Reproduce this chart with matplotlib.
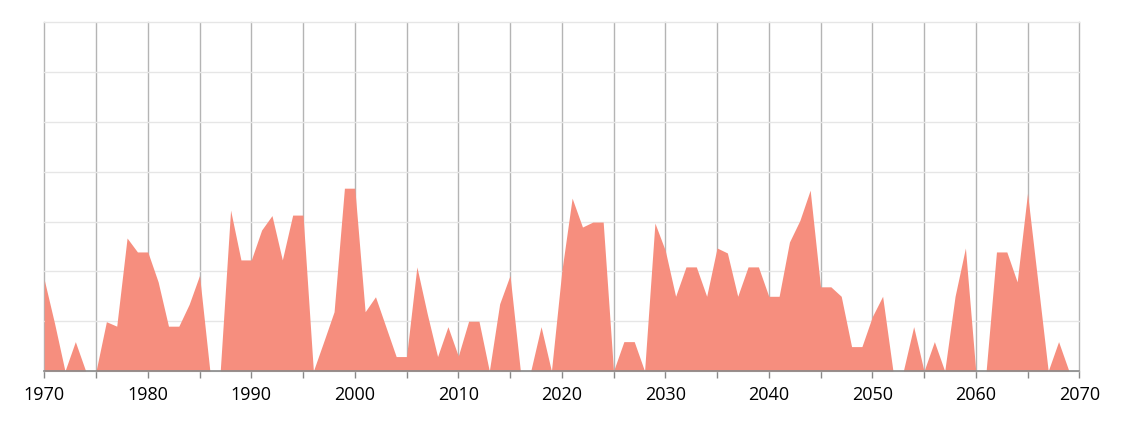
import matplotlib
matplotlib.use("Agg")
import matplotlib.pyplot as plt
import numpy as np

years = list(range(1970, 2070))
values = [
    1.83, 0.95, 0.0, 0.59, 0.0, 0.0, 0.99, 0.9, 2.67, 2.39,   # 1970-1979
    2.39, 1.79, 0.9, 0.9, 1.34, 1.92, 0.0, 0.0, 3.23, 2.23,   # 1980-1989
    2.23, 2.83, 3.12, 2.23, 3.13, 3.13, 0.0, 0.59, 1.19, 3.67, # 1990-1999
    3.67, 1.19, 1.49, 0.89, 0.29, 0.29, 2.09, 1.15, 0.29, 0.89, # 2000-2009
    0.3, 1.0, 1.0, 0.0, 1.35, 1.92, 0.0, 0.0, 0.89, 0.0,       # 2010-2019
    2.0, 3.47, 2.89, 2.99, 2.99, 0.0, 0.59, 0.59, 0.0, 2.97,   # 2020-2029
    2.42, 1.5, 2.09, 2.09, 1.5, 2.47, 2.37, 1.5, 2.09, 2.09,   # 2030-2039
    1.5, 1.5, 2.59, 3.02, 3.63, 1.69, 1.69, 1.5, 0.49, 0.49,   # 2040-2049
    1.09, 1.5, 0.0, 0.0, 0.89, 0.0, 0.59, 0.0, 1.5, 2.47,      # 2050-2059
    0.0, 0.0, 2.39, 2.39, 1.79, 3.57, 1.79, 0.0, 0.59, 0.0,    # 2060-2069
]
x_major = list(range(1970, 2071, 10))
x_minor = list(range(1975, 2070, 10))

fig = plt.figure(figsize=(11.24, 4.23), dpi=100)
ax = fig.add_axes([0.0394, 0.1229, 0.9208, 0.8244])

ax.fill_between(years, values, 0, color="#F68E7E", linewidth=0, zorder=2)

ax.set_xlim(1970, 2070)
ax.set_ylim(0, 7)
ax.set_yticks(range(0, 8))
ax.yaxis.grid(True, color="#e6e6e6", linewidth=1.0, zorder=0)
ax.tick_params(axis="y", left=False, labelleft=False)

ax.set_xticks(x_major)
ax.set_xticks(x_minor, minor=True)
ax.xaxis.grid(True, which="both", color="#b4b4b4", linewidth=1.0, zorder=1)
for gl in ax.get_xgridlines() + ax.get_ygridlines():
    gl.set_clip_on(False)
ax.tick_params(axis="x", which="both", direction="out", length=5, width=1,
               color="#888888", labelsize=13, pad=6)
ax.set_xticklabels([str(v) for v in x_major], fontfamily="Open Sans", color="#000000")

for s in ["top", "right", "left"]:
    ax.spines[s].set_visible(False)
ax.spines["bottom"].set_color("#888888")
ax.spines["bottom"].set_linewidth(1.2)
ax.spines["bottom"].set_zorder(3)
ax.set_axisbelow(True)

fig.savefig("out.png", dpi=100, facecolor="white")
